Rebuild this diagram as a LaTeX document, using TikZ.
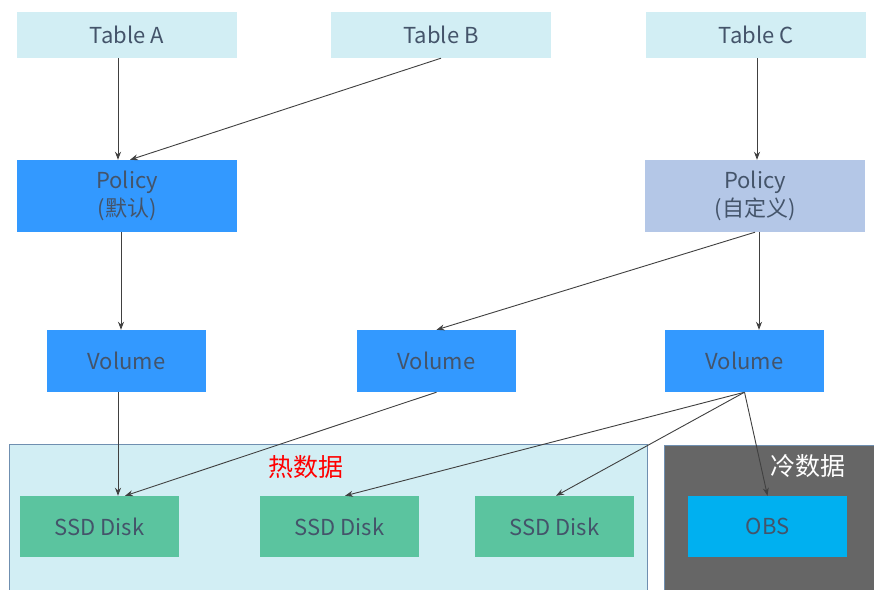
\documentclass[tikz,border=0pt]{standalone}
\usepackage{fontspec}
\setmainfont{Noto Sans CJK SC}
\usetikzlibrary{arrows.meta}
\definecolor{tblc}{HTML}{D2EEF4}
\definecolor{blu}{HTML}{3399FF}
\definecolor{pale}{HTML}{B4C7E7}
\definecolor{ssd}{HTML}{5BC49F}
\definecolor{obs}{HTML}{00B0F0}
\definecolor{txt}{HTML}{44546A}
\definecolor{hot}{HTML}{D2EEF4}
\definecolor{edgeb}{HTML}{6F8FB0}
\definecolor{arr}{HTML}{404040}
\tikzset{
  box/.style={minimum width=#1, inner sep=0pt, text=txt, font=\fontsize{22}{28}\selectfont, align=center},
  tbl/.style={box=220pt, minimum height=46pt, fill=tblc},
  pol/.style={box=220pt, minimum height=72pt},
  vol/.style={box=159pt, minimum height=62pt, fill=blu},
  disk/.style={box=159pt, minimum height=61pt},
  conn/.style={draw=arr, line width=0.9pt, -{Stealth[length=8pt,width=6pt]}},
}
\begin{document}
\begin{tikzpicture}[x=1pt,y=-1pt]
\useasboundingbox (0,0) rectangle (874,589);
\fill[white] (0,0) rectangle (874,589);
% regions
\fill[hot] (9,444) rectangle (647,600);
\draw[edgeb, line width=0.8pt] (9,600) -- (9,444) -- (647,444) -- (647,600);
\fill[black!60] (664,445) rectangle (880,600);
\draw[edgeb, line width=0.8pt] (664,600) -- (664,445) -- (880,445);
\node[text=red, font=\fontsize{25}{28}\selectfont] (hotlbl) at (306,467) {热数据};
\node[text=white, font=\fontsize{25}{28}\selectfont] (coldlbl) at (808,466) {冷数据};
% tables
\node[tbl] (ta) at (127,35) {Table A};
\node[tbl] (tb) at (441,35) {Table B};
\node[tbl] (tc) at (756,35) {Table C};
% policies
\node[pol, fill=blu] (pa) at (127,196) {Policy\\(默认)};
\node[pol, fill=pale] (pc) at (755,196) {Policy\\(自定义)};
% volumes
\node[vol] (v1) at (126.5,361) {Volume};
\node[vol] (v2) at (436.5,361) {Volume};
\node[vol] (v3) at (744.5,361) {Volume};
% disks
\node[disk, fill=ssd] (s1) at (99.5,526.5) {SSD Disk};
\node[disk, fill=ssd] (s2) at (339.5,526.5) {SSD Disk};
\node[disk, fill=ssd] (s3) at (554.5,526.5) {SSD Disk};
\node[disk, fill=obs] (ob) at (767.5,526.5) {OBS};
% connectors
\draw[conn] (ta.south -| 118,0) -- (pa.north -| 118,0);
\draw[conn] (tb.south) -- (pa.north -| 130,0);
\draw[conn] (tc.south -| 757,0) -- (pc.north -| 757,0);
\draw[conn] (pa.south -| 121,0) -- (v1.north -| 121,0);
\draw[conn] (pc.south) -- (v2.north);
\draw[conn] (pc.south -| 759,0) -- (v3.north -| 759,0);
\draw[conn] (v1.south -| 118,0) -- (s1.north -| 118,0);
\draw[conn] (v2.south) -- (s1.north -| 125,0);
\draw[conn] (v3.south) -- (s2.north -| 345,0);
\draw[conn] (v3.south) -- (s3.north -| 556,0);
\draw[conn] (v3.south) -- (ob.north);
\end{tikzpicture}
\end{document}
